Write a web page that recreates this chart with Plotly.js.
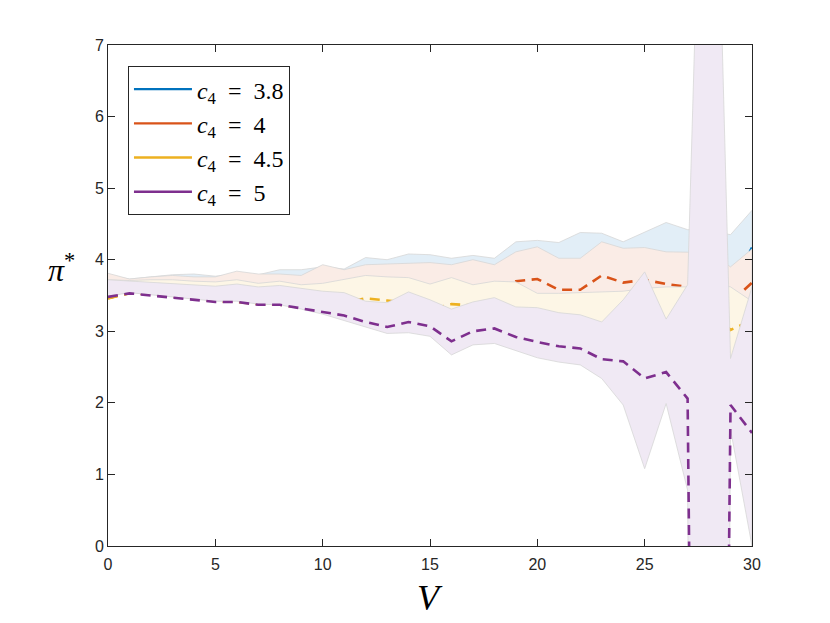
<!DOCTYPE html>
<html>
<head>
<meta charset="utf-8">
<script src="https://cdn.plot.ly/plotly-3.0.1.min.js"></script>
<style>
html,body{margin:0;padding:0;background:#fff;}
#chart{width:830px;height:623px;}
</style>
</head>
<body>
<div id="chart"></div>
<script>
// x values (V)
const V = [0,1,2,3,4,5,6,7,8,9,10,11,12,13,14,15,16,17,18,19,20,21,22,23,24,25,26,27,28,29,30];

// c4 = 3.8
const mean38  = [3.47,3.54,3.53,3.50,3.48,3.55,3.60,3.58,3.62,3.60,3.62,3.65,3.70,3.72,3.74,3.70,3.72,3.74,3.72,3.85,3.88,3.80,3.82,3.95,3.90,3.92,3.88,3.85,3.80,3.60,4.17];
const upper38 = [3.78,3.73,3.76,3.79,3.80,3.77,3.80,3.79,3.86,3.86,3.90,3.87,4.03,4.00,4.08,4.07,4.02,4.06,4.02,4.25,4.27,4.24,4.38,4.37,4.25,4.38,4.52,4.42,4.40,4.35,4.69];
const lower38 = [3.50,3.55,3.52,3.49,3.46,3.45,3.46,3.42,3.42,3.38,3.35,3.35,3.30,3.25,3.30,3.25,3.10,3.20,3.20,3.15,3.10,3.05,3.00,2.90,2.80,2.70,2.60,2.60,2.60,2.50,2.40];

// c4 = 4
const mean4  = [3.46,3.54,3.53,3.49,3.47,3.50,3.55,3.52,3.55,3.50,3.52,3.58,3.62,3.62,3.60,3.55,3.60,3.55,3.58,3.70,3.73,3.58,3.58,3.78,3.68,3.72,3.66,3.62,3.60,3.40,3.68];
const upper4 = [3.81,3.73,3.76,3.78,3.76,3.76,3.84,3.80,3.80,3.78,3.93,3.86,3.93,3.94,3.96,3.96,3.93,4.00,3.93,4.11,4.18,4.02,4.02,4.25,4.16,4.17,4.11,4.11,4.10,3.90,4.15];
const lower4 = [3.50,3.55,3.52,3.49,3.46,3.45,3.46,3.42,3.42,3.38,3.36,3.38,3.40,3.38,3.40,3.35,3.30,3.32,3.35,3.35,3.35,3.30,3.30,3.30,3.25,3.20,3.20,3.20,3.20,3.10,3.10];

// c4 = 4.5
const mean45  = [3.46,3.53,3.52,3.50,3.46,3.42,3.41,3.38,3.37,3.33,3.34,3.40,3.46,3.43,3.40,3.30,3.38,3.36,3.38,3.28,3.28,3.22,3.18,3.10,3.25,3.30,3.05,3.20,3.30,3.02,3.15];
const upper45 = [3.72,3.71,3.72,3.72,3.70,3.69,3.72,3.67,3.70,3.65,3.67,3.72,3.78,3.76,3.75,3.66,3.75,3.65,3.70,3.69,3.53,3.53,3.54,3.55,3.56,3.60,3.62,3.62,3.70,3.62,3.42];
const lower45 = [3.50,3.55,3.52,3.49,3.46,3.43,3.43,3.39,3.38,3.32,3.27,3.20,3.15,3.10,3.15,3.10,2.90,3.00,3.00,2.95,2.90,2.85,2.80,2.70,2.60,2.55,2.60,2.50,2.50,2.30,2.20];

// c4 = 5
const mean5  = [3.48,3.53,3.50,3.47,3.44,3.41,3.41,3.37,3.37,3.32,3.28,3.22,3.13,3.06,3.13,3.07,2.86,3.00,3.04,2.92,2.85,2.79,2.76,2.61,2.58,2.34,2.43,2.06,-27,1.97,1.58];
const upper5 = [3.72,3.70,3.68,3.66,3.65,3.63,3.66,3.62,3.64,3.60,3.56,3.54,3.42,3.40,3.55,3.44,3.31,3.41,3.47,3.34,3.33,3.26,3.23,3.13,3.44,3.83,3.17,3.65,14,2.62,3.62];
const lower5 = [3.49,3.54,3.51,3.48,3.45,3.42,3.42,3.38,3.37,3.31,3.24,3.16,3.06,2.97,2.98,2.93,2.67,2.81,2.83,2.73,2.63,2.57,2.53,2.34,1.97,1.08,1.99,0.78,-40,1.63,0.00];

const S = '\u00a0';
const labels = [
  '<i>c</i><sub>4</sub>' + S + S + '=' + S + S + '3.8',
  '<i>c</i><sub>4</sub>' + S + S + '=' + S + S + '4',
  '<i>c</i><sub>4</sub>' + S + S + '=' + S + S + '4.5',
  '<i>c</i><sub>4</sub>' + S + S + '=' + S + S + '5'
];
const lineColors = ['#0072BD','#D95319','#EDB120','#7E2F8E'];
const bandColors = ['#e2eef7','#faece6','#fdf6e6','#f0e9f4'];

const series = [
  {m: mean38, u: upper38, l: lower38},
  {m: mean4,  u: upper4,  l: lower4},
  {m: mean45, u: upper45, l: lower45},
  {m: mean5,  u: upper5,  l: lower5}
];

const traces = [];
series.forEach((s, i) => {
  traces.push({
    x: V.concat(V.slice().reverse()),
    y: s.u.concat(s.l.slice().reverse()),
    type: 'scatter', mode: 'lines', fill: 'toself',
    fillcolor: bandColors[i],
    line: {color: 'rgba(215,215,215,0.8)', width: 1},
    showlegend: false, hoverinfo: 'skip'
  });
  traces.push({
    x: V, y: s.m, type: 'scatter', mode: 'lines',
    line: {color: lineColors[i], width: 2.6, dash: '10px,6.5px'},
    showlegend: false
  });
});
labels.forEach((lab, i) => {
  traces.push({
    x: [null], y: [null], type: 'scatter', mode: 'lines',
    name: lab, line: {color: lineColors[i], width: 2.4}, showlegend: true
  });
});

const axisCommon = {
  showline: true, linecolor: '#262626', linewidth: 1,
  mirror: 'ticks', ticks: 'inside', ticklen: 7, tickcolor: '#262626',
  showgrid: false, zeroline: false,
  tickfont: {family: 'Liberation Sans, Arial, sans-serif', size: 16, color: '#262626'}
};

const layout = {
  width: 830, height: 623,
  margin: {l: 108, r: 78, t: 45, b: 77},
  paper_bgcolor: '#ffffff', plot_bgcolor: '#ffffff',
  xaxis: Object.assign({}, axisCommon, {range: [0, 30], tickvals: [0,5,10,15,20,25,30], ticklabelstandoff: 4}),
  yaxis: Object.assign({}, axisCommon, {range: [0, 7], tickvals: [0,1,2,3,4,5,6,7]}),
  showlegend: true,
  legend: {
    x: 0.031, y: 0.958, xanchor: 'left', yanchor: 'top',
    bgcolor: '#ffffff', bordercolor: '#262626', borderwidth: 1,
    font: {family: 'Liberation Serif, serif', size: 24, color: '#000'},
    itemwidth: 58, tracegroupgap: 0
  },
  annotations: [
    {text: '<i>π</i><sup>*</sup>', xref: 'paper', yref: 'paper', x: -0.072, y: 0.555,
     xanchor: 'center', yanchor: 'middle', showarrow: false,
     font: {family: 'Liberation Serif, serif', size: 32, color: '#000'}},
    {text: '<i>V</i>', xref: 'paper', yref: 'paper', x: 0.5, y: -0.104,
     xanchor: 'center', yanchor: 'middle', showarrow: false,
     font: {family: 'Liberation Serif, serif', size: 36, color: '#000'}}
  ]
};

Plotly.newPlot('chart', traces, layout, {displayModeBar: false, staticPlot: true});
</script>
</body>
</html>
